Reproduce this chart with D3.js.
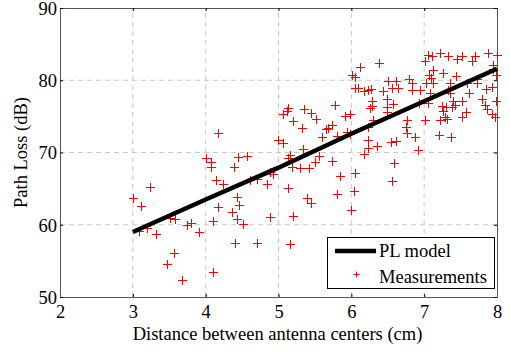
<!DOCTYPE html>
<html>
<head>
<meta charset="utf-8">
<script src="https://cdnjs.cloudflare.com/ajax/libs/d3/7.8.5/d3.min.js"></script>
<style>
body{margin:0;background:#fff;}
svg text{font-family:"Liberation Serif","Times New Roman",serif;}
</style>
</head>
<body>
<svg id="chart" width="510" height="352"></svg>
<script>
// ticks
var xTicks = [2,3,4,5,6,7,8];
var yTicks = [50,60,70,80,90];

// PL model
var modelDist = [3,4,5,6,7,8];
var modelPL   = [59.0,63.5,67.9,72.6,77.1,81.6];

// measurements (distance cm, path loss dB)
var measDist = [
 4.17,4.00,4.07,4.07,4.44,4.57,4.39,3.24,3.00,3.11,4.14,4.24,4.43,4.46,4.17,4.36,4.10,4.43,4.51,3.51,
 3.58,3.74,3.80,3.91,3.08,3.19,3.32,4.40,3.57,3.47,4.10,3.68,
 6.12,6.01,6.05,6.05,6.09,6.17,6.23,5.78,5.13,5.12,5.06,5.35,5.45,5.52,5.20,5.32,5.91,5.98,
 5.73,5.68,5.65,5.60,5.80,5.94,5.98,6.23,6.23,6.23,6.17,4.99,5.06,5.34,5.16,5.13,5.56,5.50,
 5.73,5.19,5.30,5.42,4.88,4.92,4.61,4.71,4.84,5.13,5.84,6.05,5.39,5.45,5.80,6.04,6.00,4.88,
 5.20,4.71,5.16,
 6.27,6.44,6.50,6.61,6.64,6.56,6.28,6.49,6.26,6.49,6.28,6.38,7.01,7.05,7.11,7.22,7.33,7.45,
 7.52,7.66,7.70,7.88,8.00,7.95,7.95,7.99,7.73,7.73,7.59,7.44,7.26,7.12,7.07,7.09,7.12,7.03,
 7.36,6.79,6.83,6.83,6.94,7.08,7.33,7.36,7.62,7.85,7.93,6.57,6.49,6.93,7.05,7.25,7.30,7.38,
 7.42,7.40,7.52,7.26,7.57,7.52,7.29,7.31,7.22,7.01,6.76,6.75,6.30,7.79,7.84,7.86,7.99,7.93,
 7.97,6.76,6.87,7.20,7.37,6.35,6.54,6.61,6.92,6.59,6.56
];
var measPL = [
 72.7,69.2,68.7,68.0,69.4,69.5,68.0,65.2,63.7,62.6,66.2,65.6,63.8,62.7,62.5,61.8,60.5,60.8,60.1,60.9,
 60.8,60.0,60.2,59.0,59.1,59.6,58.7,57.5,56.1,54.6,53.5,52.4,
 81.8,80.7,80.5,78.9,78.9,78.5,78.7,76.6,76.2,75.7,75.3,76.0,75.5,74.6,74.4,73.4,75.1,75.3,
 73.8,73.4,73.3,72.1,72.3,72.8,72.6,73.5,71.7,70.6,69.8,71.7,71.3,70.5,69.7,69.2,69.5,68.7,
 68.8,68.0,67.9,67.9,67.3,67.0,66.2,66.3,65.6,65.1,66.7,67.2,63.7,63.0,64.3,64.7,62.0,61.1,
 61.2,57.5,57.3,
 78.8,78.5,79.9,79.9,78.9,78.9,77.1,77.4,76.2,76.3,76.4,82.4,82.7,83.5,83.4,83.8,83.4,82.9,
 83.4,82.7,83.4,83.8,83.5,82.1,81.6,80.7,80.2,79.6,79.6,80.6,81.0,81.4,80.7,80.3,79.6,79.6,
 79.6,80.2,79.6,78.7,78.7,78.2,78.7,78.2,78.2,78.8,79.1,76.7,75.6,76.9,76.9,76.4,76.3,76.3,
 76.6,77.1,77.1,75.7,75.6,74.9,74.9,74.6,74.5,74.5,74.5,73.5,74.5,77.4,76.6,76.0,77.1,75.3,
 74.9,72.7,72.1,72.4,72.1,70.9,71.5,71.6,70.3,68.5,66.1
];

var svg = d3.select('#chart');
var pLeft = 60, pRight = 497, pTop = 8, pBottom = 297;

var x = d3.scaleLinear().domain([2,8]).range([pLeft,pRight]);
var y = d3.scaleLinear().domain([50,90]).range([pBottom,pTop]);

// grid
var grid = svg.append('g').attr('class','grid')
	.attr('stroke','#c8c8c8').attr('stroke-width',1).attr('stroke-dasharray','5,4');
grid.selectAll('.gx').data(xTicks.slice(1,-1)).enter().append('line')
	.attr('x1',function(d){return x(d);}).attr('x2',function(d){return x(d);})
	.attr('y1',pBottom).attr('y2',pTop);
grid.selectAll('.gy').data(yTicks.slice(1,-1)).enter().append('line')
	.attr('y1',function(d){return y(d);}).attr('y2',function(d){return y(d);})
	.attr('x1',pLeft).attr('x2',pRight);

// axes
function styleAxis(g){
	g.select('.domain').attr('stroke','#555');
	g.selectAll('.tick line').attr('stroke','#000');
	g.selectAll('text').attr('font-size','18.5px').attr('fill','#000')
		.style('font-family','"Liberation Serif","Times New Roman",serif');
}
var gxb = svg.append('g').attr('transform','translate(0,'+pBottom+')')
	.call(d3.axisBottom(x).tickValues(xTicks).tickSize(-3).tickSizeOuter(0).tickFormat(d3.format('d')));
styleAxis(gxb);
gxb.selectAll('text').attr('y',21).attr('dy',null);

var gxt = svg.append('g').attr('transform','translate(0,'+pTop+')')
	.call(d3.axisTop(x).tickValues(xTicks).tickSize(-3).tickSizeOuter(0).tickFormat(''));
styleAxis(gxt);

var gyl = svg.append('g').attr('transform','translate('+pLeft+',0)')
	.call(d3.axisLeft(y).tickValues(yTicks).tickSize(-3).tickSizeOuter(0).tickFormat(d3.format('d')));
styleAxis(gyl);
gyl.selectAll('text').attr('x',-3).attr('dy','0.35em');

var gyr = svg.append('g').attr('transform','translate('+pRight+',0)')
	.call(d3.axisRight(y).tickValues(yTicks).tickSize(-3).tickSizeOuter(0).tickFormat(''));
styleAxis(gyr);

// measurements
var pts = d3.range(measDist.length).map(function(i){ return [measDist[i], measPL[i]]; });
var plus = 'M-4.5,0H4.5M0,-4.5V4.5';
svg.append('g').selectAll('path.m').data(pts).enter().append('path')
	.attr('class','m')
	.attr('d',plus)
	.attr('transform',function(d){ return 'translate('+Math.round(x(d[0]))+'.5,'+Math.round(y(d[1]))+'.5)'; })
	.attr('fill','none').attr('stroke','#ff0000').attr('stroke-width',1);

// model line
var line = d3.line().x(function(d){return x(d[0]);}).y(function(d){return y(d[1]);});
svg.append('path')
	.datum(modelDist.map(function(d,i){ return [d, modelPL[i]]; }))
	.attr('d',line)
	.attr('fill','none').attr('stroke','#000').attr('stroke-width',4.5);

// labels
svg.append('text').attr('x',(pLeft+pRight)/2 - 1).attr('y',340)
	.attr('text-anchor','middle').attr('font-size','18.5px')
	.text('Distance between antenna centers (cm)');
svg.append('text').attr('transform','translate(27,'+((pTop+pBottom)/2)+') rotate(-90)')
	.attr('text-anchor','middle').attr('font-size','18.5px')
	.text('Path Loss (dB)');

// legend
var lg = svg.append('g');
lg.append('rect').attr('x',327.5).attr('y',237.5).attr('width',167).attr('height',51)
	.attr('fill','#fff').attr('stroke','#000').attr('stroke-width',1);
lg.append('line').attr('x1',335).attr('x2',376).attr('y1',251).attr('y2',251)
	.attr('stroke','#000').attr('stroke-width',4.5);
lg.append('text').attr('x',379).attr('y',257).attr('font-size','18.5px').text('PL model');
lg.append('path').attr('d','M-3,0H3M0,-3V3').attr('transform','translate(356.5,274.5)')
	.attr('fill','none').attr('stroke','#ff0000').attr('stroke-width',1);
lg.append('text').attr('x',379).attr('y',283).attr('font-size','18.5px').text('Measurements');
</script>
</body>
</html>
